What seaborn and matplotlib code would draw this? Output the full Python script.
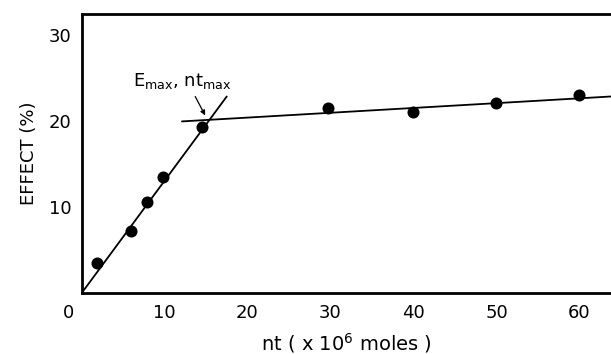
import matplotlib
matplotlib.use("Agg")
import matplotlib.pyplot as plt
import matplotlib.transforms as mtransforms
import seaborn as sns
import pandas as pd

# Data
nt_values = [1.9, 6.0, 7.9, 9.8, 14.5, 29.7, 40.0, 50.0, 59.9]
effect_values = [3.5, 7.2, 10.6, 13.5, 19.4, 21.6, 21.1, 22.1, 23.1]
fit1_x = [0.0, 17.5]
fit1_y = [0.0, 22.9]
fit2_x = [12.1, 63.8]
fit2_y = [20.0, 22.9]
x_ticks = [0, 10, 20, 30, 40, 50, 60]
y_ticks = [10, 20, 30]

sns.set_theme(style="white")
plt.rcParams['font.family'] = ['DejaVu Sans']
plt.rcParams['text.color'] = 'black'
plt.rcParams['axes.labelcolor'] = 'black'

fig = plt.figure(figsize=(6.11, 3.54), dpi=100)
ax = fig.add_axes([0.1334, 0.1715, 0.8666, 0.789])

pts = pd.DataFrame({"nt": nt_values, "effect": effect_values})
sns.lineplot(x=fit1_x, y=fit1_y, ax=ax, color="black", linewidth=1.3)
sns.lineplot(x=fit2_x, y=fit2_y, ax=ax, color="black", linewidth=1.3)
sns.scatterplot(data=pts, x="nt", y="effect", ax=ax, color="black", s=75,
                edgecolor="black", linewidth=0, zorder=5)

ax.set_xlim(0, 63.8)
ax.set_ylim(0, 32.5)
ax.set_xticks(x_ticks)
ax.set_yticks(y_ticks)
ax.tick_params(axis="both", direction="in", length=7, width=1.5,
               labelsize=13, color="black", labelcolor="black")
ax.tick_params(axis="x", pad=8)
ax.tick_params(axis="y", pad=7)
for side in ["left", "bottom", "top"]:
    ax.spines[side].set_visible(True)
    ax.spines[side].set_color("black")
    ax.spines[side].set_linewidth(2)
ax.spines["right"].set_visible(False)

ax.set_xlabel("nt ( x 10$^{6}$ moles )", fontsize=14, color="black", labelpad=6)
ax.set_ylabel("EFFECT (%)", fontsize=13, color="black", labelpad=8)

# shift origin label left as in reference
fig.canvas.draw()
lbl0 = ax.get_xticklabels()[0]
lbl0.set_transform(lbl0.get_transform() + mtransforms.ScaledTranslation(-13/100, 0, fig.dpi_scale_trans))

ax.text(6.2, 24.7, "E$_{\\mathregular{max}}$, nt$_{\\mathregular{max}}$", fontsize=13,
        ha="left", va="center", color="black")
ax.annotate("", xy=(14.9, 20.7), xytext=(13.7, 22.9),
            arrowprops=dict(arrowstyle="-|>", color="black", lw=0.9,
                            shrinkA=0, shrinkB=0, mutation_scale=7))

fig.savefig("out.png", dpi=100)
